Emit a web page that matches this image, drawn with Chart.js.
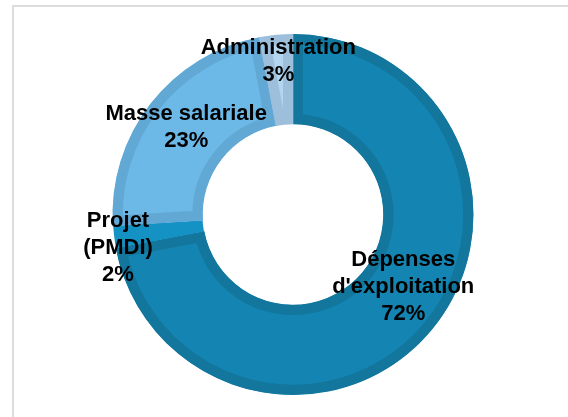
<!DOCTYPE html>
<html>
<head>
<meta charset="utf-8">
<script src="https://cdn.jsdelivr.net/npm/chart.js@4.4.0/dist/chart.umd.min.js"></script>
<style>
  html, body { margin: 0; padding: 0; background: #fff; }
  #wrap { position: relative; width: 568px; height: 417px; overflow: hidden; }
  #frame {
    position: absolute; left: 12px; top: 5px; width: 600px; height: 500px;
    border-top: 2px solid #dcdcdc; border-left: 2px solid #dcdcdc;
  }
  canvas { position: absolute; left: 0; top: 0; }
</style>
</head>
<body>
<div id="wrap">
  <div id="frame"></div>
  <canvas id="chart" width="568" height="417"></canvas>
</div>
<script>
// === Data ===
const categories = ["Dépenses d'exploitation", 'Projet (PMDI)', 'Masse salariale', 'Administration'];
const labelLines = [['Dépenses', "d'exploitation"], ['Projet', '(PMDI)'], ['Masse salariale'], ['Administration']];
const shares = [72, 2, 23, 3];

// === Colours ===
const fillColors = ['#1485b2', '#1592c4', '#6cb8e6', '#b2d6f0'];
const bevelColors = ['#12769d', '#1592c4', '#62a8d5', '#9ebfdc'];
const bevelWidths = [10, 0, 10, 10];

// === Slice labels (no datalabels plugin offline, so draw them here) ===
const sliceLabels = {
  id: 'sliceLabels',
  afterDatasetsDraw(chart, args, opts) {
    const { ctx } = chart;
    const meta = chart.getDatasetMeta(0);
    ctx.save();
    ctx.font = opts.font;
    ctx.fillStyle = opts.color;
    ctx.textAlign = 'center';
    ctx.textBaseline = 'middle';
    meta.data.forEach((arc, i) => {
      const p = opts.placement[i];
      const mid = (arc.startAngle + arc.endAngle) / 2 + p.shift * Math.PI / 180;
      const r = arc.outerRadius * p.radius;
      const x = arc.x + Math.cos(mid) * r;
      const y = arc.y + Math.sin(mid) * r + opts.yShift;
      const lines = [...labelLines[i], shares[i] + '%'];
      const top = y - (lines.length - 1) * opts.lineHeight / 2;
      lines.forEach((t, k) => ctx.fillText(t, x, top + k * opts.lineHeight));
    });
    ctx.restore();
  }
};

new Chart(document.getElementById('chart'), {
  type: 'doughnut',
  data: {
    labels: categories,
    datasets: [{
      data: shares,
      backgroundColor: fillColors,
      borderColor: bevelColors,
      borderWidth: bevelWidths,
      borderAlign: 'inner',
      hoverOffset: 0
    }]
  },
  options: {
    responsive: false,
    animation: false,
    cutout: '50%',
    layout: { padding: { top: 34, bottom: 22, left: 20, right: 2 } },
    plugins: {
      legend: { display: false },
      tooltip: { enabled: false },
      sliceLabels: {
        font: 'bold 22px "Liberation Sans", Arial, sans-serif',
        color: '#000',
        lineHeight: 27,
        yShift: 2,
        placement: [
          { radius: 0.725, shift: -7 },
          { radius: 0.985, shift: -3 },
          { radius: 0.77, shift: 2 },
          { radius: 0.863, shift: 0 }
        ]
      }
    }
  },
  plugins: [sliceLabels]
});
</script>
</body>
</html>
